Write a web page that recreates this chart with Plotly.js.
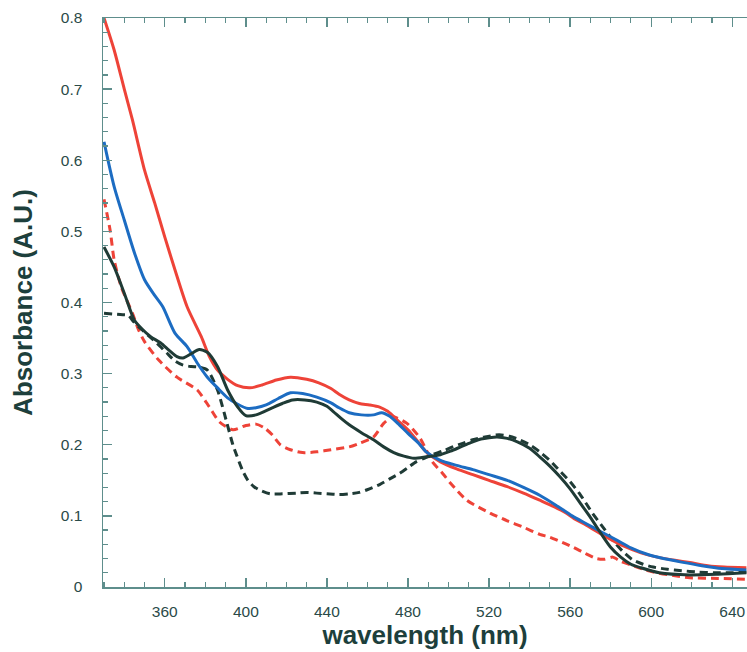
<!DOCTYPE html>
<html>
<head>
<meta charset="utf-8">
<script src="https://cdn.plot.ly/plotly-3.0.1.min.js"></script>
<style>html,body{margin:0;padding:0;background:#fff;}#chart{width:747px;height:652px;}</style>
</head>
<body>
<div id="chart"></div>
<script>
// Red solid
const redSolidX = [330,335,340,344,350,355,360,365,371,378,382,386,391,396,402,408,415,422,430,436,442,446,451,456,461,466,470,475,480,485,489,496,504,512,520,529,537,545,552,558,562,568,578,586,595,603,611,620,628,636,647];
const redSolidY = [0.80,0.755,0.70,0.657,0.586,0.54,0.492,0.446,0.394,0.352,0.324,0.305,0.292,0.283,0.28,0.284,0.291,0.295,0.292,0.287,0.279,0.271,0.263,0.258,0.256,0.253,0.247,0.234,0.221,0.204,0.19,0.176,0.166,0.158,0.15,0.141,0.132,0.122,0.113,0.104,0.096,0.087,0.07,0.058,0.048,0.042,0.038,0.034,0.03,0.028,0.027];
// Blue solid
const blueSolidX = [330,335,340,345,350,355,359,365,371,376,381,386,391,396,401,405,410,416,422,428,435,442,446,451,457,463,467,471,475,480,485,489,496,504,512,520,529,537,545,553,561,568,575,583,590,598,606,615,625,635,647];
const blueSolidY = [0.626,0.563,0.516,0.47,0.432,0.41,0.394,0.357,0.338,0.315,0.295,0.28,0.266,0.257,0.251,0.252,0.256,0.265,0.273,0.272,0.267,0.259,0.252,0.245,0.242,0.242,0.245,0.24,0.23,0.216,0.203,0.19,0.178,0.171,0.165,0.158,0.15,0.14,0.129,0.115,0.1,0.089,0.078,0.066,0.055,0.046,0.04,0.035,0.03,0.026,0.024];
// Black solid
const blackSolidX = [330,335,340,345,349,353,358,362,366,369,373,377,381,386,391,396,400,405,413,418,423,429,435,440,443,447,451,457,463,468,473,478,483,489,496,501,506,511,516,520,524,529,534,540,545,550,555,560,565,570,576,580,585,590,595,604,619,633,647];
const blackSolidY = [0.478,0.45,0.413,0.375,0.362,0.352,0.343,0.333,0.324,0.322,0.328,0.334,0.33,0.31,0.277,0.253,0.241,0.242,0.252,0.258,0.263,0.263,0.26,0.254,0.247,0.237,0.228,0.217,0.207,0.197,0.189,0.184,0.181,0.183,0.186,0.191,0.197,0.203,0.208,0.21,0.211,0.209,0.204,0.195,0.183,0.17,0.155,0.138,0.118,0.098,0.072,0.056,0.042,0.032,0.027,0.02,0.017,0.018,0.02];
// Red dashed
const redDashX = [330,333,335,338.5,344,347,350,357,366,376,382,387,393.6,400,405,409,413,417,422,428,435,442,451,456,463,468,472.6,479.5,486,492,497,501,509,515,520.5,529,537,545,550,556,561.5,567,573,577,581,585,590,596,603,611,619,633,647];
const redDashY = [0.545,0.502,0.46,0.422,0.385,0.362,0.345,0.319,0.295,0.277,0.253,0.232,0.221,0.227,0.229,0.224,0.214,0.2,0.193,0.189,0.19,0.193,0.197,0.202,0.211,0.23,0.239,0.23,0.209,0.176,0.16,0.146,0.122,0.112,0.104,0.093,0.084,0.074,0.07,0.063,0.056,0.048,0.04,0.039,0.042,0.036,0.031,0.025,0.02,0.016,0.013,0.012,0.011];
// Black dashed
const blackDashX = [330,338,342,344,347,349,356,361,365,369,373,377,381,386,390.6,393.6,395.5,398.5,401,404,407,412,418,425,430,435,440,446,451,456,461,466,471,476,480,484,488,492,497,502,507,512,518,525,530,535,540,545,550,555,560,565,571,576,581,586,591,596,601,608,615,623,631,639,647];
const blackDashY = [0.385,0.383,0.382,0.375,0.366,0.361,0.343,0.329,0.318,0.312,0.31,0.309,0.305,0.277,0.231,0.2,0.185,0.163,0.15,0.141,0.136,0.131,0.131,0.132,0.133,0.132,0.131,0.13,0.131,0.133,0.138,0.144,0.152,0.16,0.168,0.176,0.181,0.186,0.191,0.197,0.202,0.207,0.211,0.214,0.212,0.207,0.2,0.19,0.178,0.163,0.148,0.13,0.104,0.085,0.066,0.05,0.038,0.032,0.028,0.025,0.023,0.021,0.02,0.02,0.021];

const xTickVals = [360,400,440,480,520,560,600,640];
const yTickVals = [0,0.1,0.2,0.3,0.4,0.5,0.6,0.7,0.8];
const yTickText = ['0','0.1','0.2','0.3','0.4','0.5','0.6','0.7','0.8'];

const RED = '#ee4338', BLUE = '#1c6cc2', DARK = '#1f3b36';
const AXIS = '#5e8e8c', TXT = '#2a4a48', TITLE = '#1d3f3c';

const SM = 0.7;
const traces = [
  {x: redDashX, y: redDashY, mode:'lines', line:{color:RED, width:3, dash:'8px,5px', shape:'spline', smoothing:SM}},
  {x: blackDashX, y: blackDashY, mode:'lines', line:{color:DARK, width:3, dash:'8px,5px', shape:'spline', smoothing:SM}},
  {x: redSolidX, y: redSolidY, mode:'lines', line:{color:RED, width:3, shape:'spline', smoothing:SM}},
  {x: blueSolidX, y: blueSolidY, mode:'lines', line:{color:BLUE, width:3, shape:'spline', smoothing:SM}},
  {x: blackSolidX, y: blackSolidY, mode:'lines', line:{color:DARK, width:3, shape:'spline', smoothing:SM}}
];

const layout = {
  width: 747, height: 652,
  margin: {l:103, r:0, t:18, b:65, pad:0},
  paper_bgcolor:'#ffffff', plot_bgcolor:'#ffffff',
  showlegend:false,
  font:{family:'"Liberation Sans", Arial, sans-serif', color:TXT, size:15},
  xaxis:{
    range:[329.5,647.3], tickvals:xTickVals, ticks:'inside', ticklen:9, tickwidth:1.3, tickcolor:AXIS,
    showline:true, linecolor:AXIS, linewidth:1.5, mirror:'ticks', showgrid:false, zeroline:false,
    minor:{dtick:10, tick0:320, ticks:'inside', ticklen:5, tickwidth:1.2, tickcolor:AXIS, showgrid:false},
    tickfont:{size:15.5, color:TXT}, ticklabelstandoff:10,
    title:{text:'<b>wavelength (nm)</b>', font:{size:26, color:TITLE}, standoff:6}
  },
  yaxis:{
    range:[0,0.8], tickvals:yTickVals, ticktext:yTickText, ticks:'inside', ticklen:9, tickwidth:1.3, tickcolor:AXIS,
    showline:true, linecolor:AXIS, linewidth:1.5, showgrid:false, zeroline:false,
    minor:{dtick:0.02, tick0:0, ticks:'inside', ticklen:5, tickwidth:1.2, tickcolor:AXIS, showgrid:false},
    tickfont:{size:15.5, color:TXT}, ticklabelstandoff:16,
    title:{text:'<b>Absorbance (A.U.)</b>', font:{size:26, color:TITLE}, standoff:20}
  }
};

Plotly.newPlot('chart', traces, layout, {displayModeBar:false, staticPlot:true});
</script>
</body>
</html>
